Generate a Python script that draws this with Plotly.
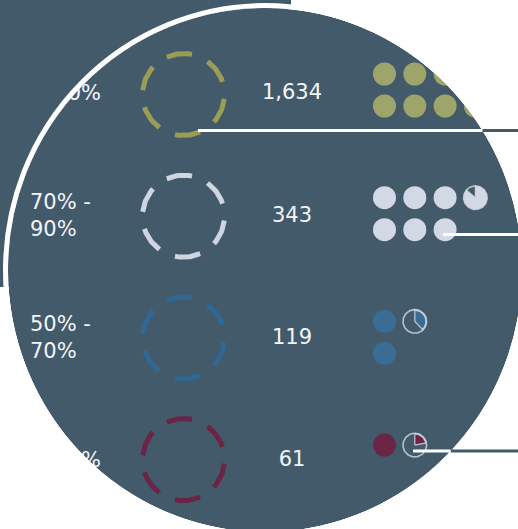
import math
import numpy as np
import plotly.graph_objects as go

# ---------------- data ----------------
CATEGORIES = ["> 90%", "70% -\n90%", "50% -\n70%", "< 50%"]
COUNTS = [1634, 343, 119, 61]
UNIT_PER_DOT = 50

# ---------------- style / layout constants ----------------
W, H = 518, 529
BG = "#435a6b"
DOT_COLORS = ["#9ea56b", "#d3d9e4", "#3a6d93", "#6b2545"]
RING_COLORS = ["#9a9e54", "#d0d6e1", "#2f6892", "#6b2446"]
PIE_EDGE = "rgba(214,220,230,0.80)"
TEXT_COLOR = "#f3f5f8"
FONT = "DejaVu Sans"
FONT_SIZE = 21

RING_X, RING_Y0, RING_STEP = 183.5, 94.5, 121.7
RING_R, RING_W = 41, 5
RING_DASHES, RING_PHASE, RING_DASH_DEG = 6, -6, 36
NUM_X, NUM_Y0, NUM_STEP = 292, 94, 122.3
LABEL_X, LABEL_Y0 = 30, 95
DOT_X0, DOT_DX = 384.5, 30.3
DOT_Y0, DOT_STEP, DOT_DY = 74, 123.7, 32
DOT_SIZE = 23
PIE_R = 11.2

DISK_CX, DISK_CY, DISK_RX, DISK_RY = 265, 270, 257, 262
RECT_X1, RECT_Y1 = 291, 287
BORDER_W = 5
LEADERS = [(198, 130.5), (443, 234.5), (413, 451)]
LEADER_W = 3

fig = go.Figure()

# ---------------- dashed rings ----------------
for i, col in enumerate(RING_COLORS):
    cy = RING_Y0 + i * RING_STEP
    xs, ys = [], []
    for k in range(RING_DASHES):
        c = RING_PHASE + k * 360 / RING_DASHES
        t = np.radians(np.linspace(c - RING_DASH_DEG / 2, c + RING_DASH_DEG / 2, 30))
        xs += list(RING_X + RING_R * np.sin(t)) + [None]
        ys += list(cy - RING_R * np.cos(t)) + [None]
    fig.add_trace(go.Scatter(x=xs, y=ys, mode="lines",
                             line=dict(color=col, width=RING_W),
                             hoverinfo="skip"))

# ---------------- counts ----------------
fig.add_trace(go.Scatter(
    x=[NUM_X] * len(COUNTS),
    y=[NUM_Y0 + i * NUM_STEP for i in range(len(COUNTS))],
    text=[f"{c:,}" for c in COUNTS], mode="text",
    textposition="middle center",
    textfont=dict(family=FONT, size=FONT_SIZE, color=TEXT_COLOR),
    hoverinfo="skip"))

# ---------------- category labels ----------------
fig.add_trace(go.Scatter(
    x=[LABEL_X] * len(CATEGORIES),
    y=[LABEL_Y0 + i * NUM_STEP for i in range(len(CATEGORIES))],
    text=[c.replace("\n", "<br>") for c in CATEGORIES], mode="text",
    textposition="middle right",
    textfont=dict(family=FONT, size=FONT_SIZE, color=TEXT_COLOR),
    hoverinfo="skip"))

# ---------------- dots and partial pies ----------------
for i, (cnt, col) in enumerate(zip(COUNTS, DOT_COLORS)):
    units = cnt / UNIT_PER_DOT
    full = int(math.floor(units))
    frac = units - full
    y0 = DOT_Y0 + i * DOT_STEP
    dx = [DOT_X0 + (k // 2) * DOT_DX for k in range(full)]
    dy = [y0 + (k % 2) * DOT_DY for k in range(full)]
    fig.add_trace(go.Scatter(x=dx, y=dy, mode="markers",
                             marker=dict(size=DOT_SIZE, color=col, line=dict(width=0)),
                             hoverinfo="skip"))
    if frac > 0:
        pc = math.ceil(full / 2)
        px, py = DOT_X0 + pc * DOT_DX, y0
        t = np.radians(np.linspace(0, frac * 360, 80))
        wx = [px] + list(px + PIE_R * np.sin(t)) + [px]
        wy = [py] + list(py - PIE_R * np.cos(t)) + [py]
        fig.add_trace(go.Scatter(x=wx, y=wy, mode="lines", fill="toself",
                                 fillcolor=col, line=dict(color=PIE_EDGE, width=1.3),
                                 hoverinfo="skip"))
        tt = np.radians(np.linspace(0, 360, 121))
        fig.add_trace(go.Scatter(x=list(px + (PIE_R + 0.6) * np.sin(tt)),
                                 y=list(py - (PIE_R + 0.6) * np.cos(tt)),
                                 mode="lines", line=dict(color=PIE_EDGE, width=1.6),
                                 hoverinfo="skip"))

# ---------------- background & mask shapes ----------------
def ellipse_pts(rx, ry, t0=0, t1=360, n=720):
    t = np.radians(np.linspace(t0, t1, n))
    return DISK_CX + rx * np.cos(t), DISK_CY + ry * np.sin(t)

shapes = []
shapes.append(dict(type="rect", layer="below", x0=0, x1=RECT_X1, y0=0, y1=RECT_Y1,
                   fillcolor=BG, line=dict(width=0)))
shapes.append(dict(type="circle", layer="below",
                   x0=DISK_CX - DISK_RX, x1=DISK_CX + DISK_RX,
                   y0=DISK_CY - DISK_RY, y1=DISK_CY + DISK_RY,
                   fillcolor=BG, line=dict(width=0)))

ex, ey = ellipse_pts(DISK_RX, DISK_RY)
ell = "M" + " L".join(f"{a:.2f},{b:.2f}" for a, b in zip(ex, ey)) + " Z"
mask = f"M-10,-10 L{W+10},-10 L{W+10},{H+10} L-10,{H+10} Z " + ell
shapes.append(dict(type="path", layer="above", path=mask, fillcolor="white",
                   fillrule="evenodd", line=dict(width=0)))

# dark rectangle part outside the disk
t_a = -math.degrees(math.acos((RECT_X1 - DISK_CX) / DISK_RX))
t_b = -180 - math.degrees(math.asin((RECT_Y1 - DISK_CY) / DISK_RY))
ax_, ay_ = ellipse_pts(DISK_RX, DISK_RY, t_a, t_b, 200)
rp = f"M0,0 L{RECT_X1},0 " + " ".join(f"L{a:.2f},{b:.2f}" for a, b in zip(ax_, ay_)) + f" L0,{RECT_Y1} Z"
shapes.append(dict(type="path", layer="above", path=rp, fillcolor=BG, line=dict(width=0)))

# white border of the disk
shapes.append(dict(type="circle", layer="above",
                   x0=DISK_CX - DISK_RX - BORDER_W / 2, x1=DISK_CX + DISK_RX + BORDER_W / 2,
                   y0=DISK_CY - DISK_RY - BORDER_W / 2, y1=DISK_CY + DISK_RY + BORDER_W / 2,
                   fillcolor="rgba(0,0,0,0)", line=dict(color="white", width=BORDER_W)))

# leader lines: white inside the disk, slate outside
for lx0, lyy in LEADERS:
    r = (lyy - DISK_CY) / DISK_RY
    edge = DISK_CX + DISK_RX * math.sqrt(max(0.0, 1 - r * r))
    edge = min(edge, W)
    shapes.append(dict(type="line", layer="above", x0=lx0, x1=edge, y0=lyy, y1=lyy,
                       line=dict(color="white", width=LEADER_W)))
    if edge < W:
        shapes.append(dict(type="line", layer="above", x0=edge, x1=W, y0=lyy, y1=lyy,
                           line=dict(color=BG, width=LEADER_W)))

fig.update_layout(
    width=W, height=H, margin=dict(l=0, r=0, t=0, b=0),
    paper_bgcolor="white", plot_bgcolor="white", showlegend=False,
    xaxis=dict(range=[0, W], visible=False, fixedrange=True),
    yaxis=dict(range=[H, 0], visible=False, fixedrange=True),
    shapes=shapes,
)
fig.write_html("out.html")
